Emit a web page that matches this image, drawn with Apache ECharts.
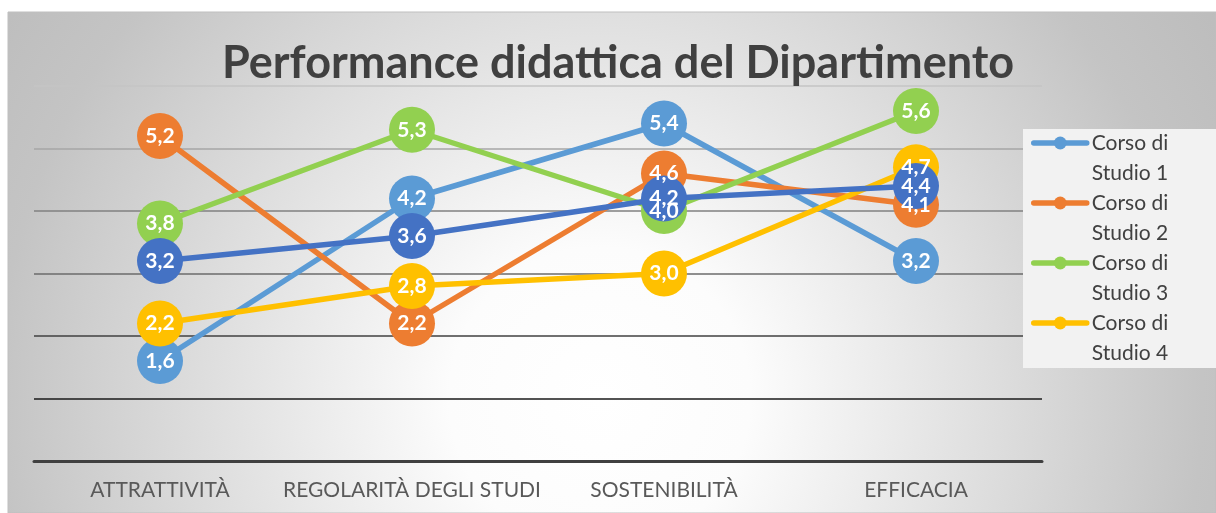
<!DOCTYPE html>
<html>
<head>
<meta charset="utf-8">
<script src="https://cdn.jsdelivr.net/npm/echarts@6/dist/echarts.min.js"></script>
<style>
  html, body { margin: 0; padding: 0; background: #fff; }
  #chart { width: 1216px; height: 513px; }
</style>
</head>
<body>
<div id="chart"></div>
<script>
var categories = ['ATTRATTIVITÀ', 'REGOLARITÀ DEGLI STUDI', 'SOSTENIBILITÀ', 'EFFICACIA']
var cds1 = [1.6, 4.2, 5.4, 3.2]
var cds2 = [5.2, 2.2, 4.6, 4.1]
var cds3 = [3.8, 5.3, 4.0, 5.6]
var cds4 = [2.2, 2.8, 3.0, 4.7]
var dipartimento = [3.2, 3.6, 4.2, 4.4]

var font = 'Lato'

function makeSeries (name, data, color) {
  return {
    name: name,
    type: 'line',
    data: data,
    symbol: 'circle',
    symbolSize: 46,
    lineStyle: { color: color, width: 5.5 },
    itemStyle: { color: color },
    label: {
      show: true,
      position: 'inside',
      color: '#ffffff',
      fontWeight: 'bold',
      fontSize: 21,
      fontFamily: font,
      formatter: function (p) { return p.value.toFixed(1).replace('.', ',') }
    }
  }
}

var myChart = echarts.init(document.getElementById('chart'))
myChart.setOption({
  animation: false,
  graphic: [
    {
      type: 'rect',
      z: -10,
      shape: { x: 8, y: 12, width: 1208, height: 501 },
      style: {
        fill: new echarts.graphic.RadialGradient(0.49, 0.77, 1.5, [
          { offset: 0, color: '#ffffff' },
          { offset: 0.2, color: '#fcfcfc' },
          { offset: 0.8, color: '#c4c4c4' },
          { offset: 1, color: '#bbbbbb' }
        ]),
        stroke: '#bfbfbf',
        lineWidth: 1
      }
    },
    {
      type: 'rect',
      z: 1,
      shape: { x: 1023, y: 129, width: 200, height: 239 },
      style: { fill: '#f2f2f2' }
    }
  ],
  title: {
    text: 'Performance didattica del Dipartimento',
    left: 222,
    top: 41,
    padding: 0,
    textStyle: {
      color: '#404040',
      fontSize: 45,
      fontWeight: 'bold',
      fontFamily: font
    }
  },
  grid: {
    left: 34,
    right: 174,
    top: 86,
    bottom: 52,
    containLabel: false
  },
  xAxis: {
    type: 'category',
    data: categories,
    axisTick: { show: false },
    axisLine: { lineStyle: { color: '#404040', width: 3 } },
    axisLabel: {
      interval: 0,
      color: '#595959',
      fontSize: 21,
      fontFamily: font,
      margin: 19
    }
  },
  yAxis: {
    type: 'value',
    min: 0,
    max: 6,
    interval: 1,
    axisLabel: { show: false },
    axisLine: { show: false },
    axisTick: { show: false },
    splitLine: {
      lineStyle: {
        width: 1.5,
        color: ['#404040', '#1a1a1a', '#404040', '#6b6b6b', '#808080', '#a6a6a6', '#c4c4c4']
      }
    }
  },
  legend: {
    data: ['Corso di Studio 1', 'Corso di Studio 2', 'Corso di Studio 3', 'Corso di Studio 4'],
    orient: 'vertical',
    left: 1031,
    top: 98,
    padding: 0,
    itemGap: -30,
    itemWidth: 53,
    itemHeight: 16,
    selectedMode: false,
    lineStyle: { width: 5.5, cap: 'round' },
    formatter: function (name) { return ' \n' + name.replace(' Studio', '\nStudio') },
    textStyle: {
      color: '#404040',
      fontSize: 21,
      fontFamily: font,
      lineHeight: 30
    }
  },
  series: [
    makeSeries('Corso di Studio 1', cds1, '#5b9bd5'),
    makeSeries('Corso di Studio 2', cds2, '#ed7d31'),
    makeSeries('Corso di Studio 3', cds3, '#92d050'),
    makeSeries('Corso di Studio 4', cds4, '#ffc000'),
    makeSeries('Dipartimento', dipartimento, '#4472c4')
  ]
})
</script>
</body>
</html>
